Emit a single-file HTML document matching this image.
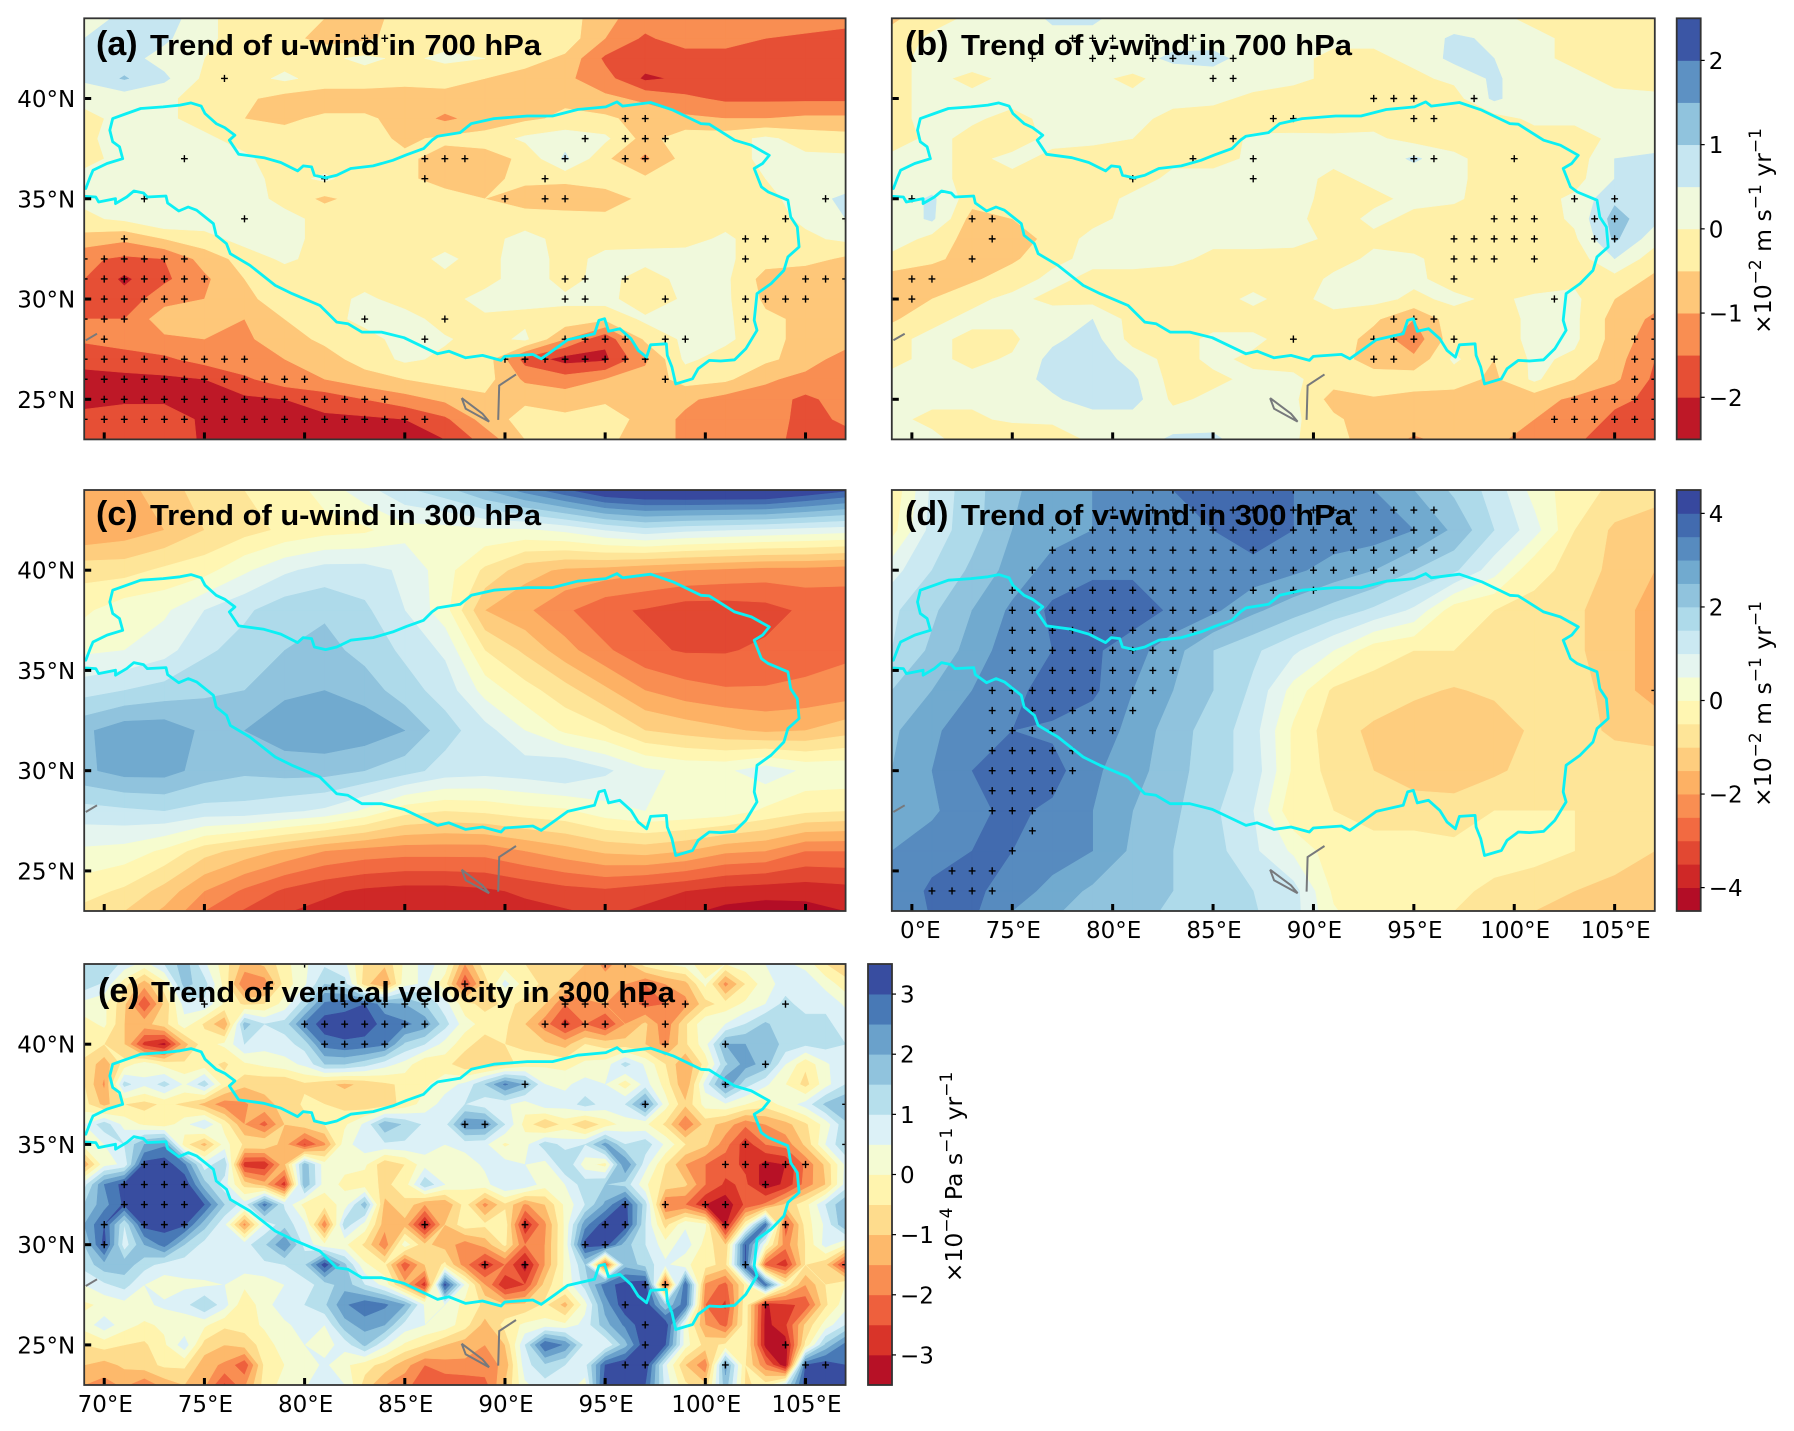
<!DOCTYPE html>
<html lang="en">
<head>
<meta charset="utf-8">
<title>Wind and vertical velocity trends</title>
<style>
html,body{margin:0;padding:0;background:#fff;}
svg{display:block;}
.tick{font-family:"DejaVu Sans",sans-serif;font-size:23px;fill:#000;}
.ttl{font-family:"Liberation Sans",sans-serif;font-weight:bold;font-size:29px;fill:#000;}
.ttlp{font-family:"Liberation Sans",sans-serif;font-weight:bold;font-size:34px;fill:#000;}
.cbl{font-family:"DejaVu Sans",sans-serif;font-size:23.5px;fill:#000;}
.sup{font-size:17px;}
</style>
</head>
<body>
<svg id="fig" xmlns="http://www.w3.org/2000/svg" width="1794" height="1431" viewBox="0 0 1794 1431">
<rect x="0" y="0" width="1794" height="1431" fill="#fff"/>
<g id="plots"></g>
<g>
<text class="ttlp" x="96" y="55">(a)</text>
<text class="ttl" x="150" y="55" textLength="391" lengthAdjust="spacingAndGlyphs">Trend of u-wind in 700 hPa</text>
<text class="ttlp" x="905" y="55">(b)</text>
<text class="ttl" x="961" y="55" textLength="391" lengthAdjust="spacingAndGlyphs">Trend of v-wind in 700 hPa</text>
<text class="ttlp" x="96" y="525">(c)</text>
<text class="ttl" x="150" y="525" textLength="391" lengthAdjust="spacingAndGlyphs">Trend of u-wind in 300 hPa</text>
<text class="ttlp" x="905" y="525">(d)</text>
<text class="ttl" x="961" y="525" textLength="391" lengthAdjust="spacingAndGlyphs">Trend of v-wind in 300 hPa</text>
<text class="ttlp" x="98" y="1002">(e)</text>
<text class="ttl" x="151" y="1002" textLength="524" lengthAdjust="spacingAndGlyphs">Trend of vertical velocity in 300 hPa</text>
</g>
<g>
<text class="cbl" text-anchor="middle" transform="translate(1771,231) rotate(-90)">×10<tspan class="sup" dy="-10">−2</tspan><tspan dy="10"> m s</tspan><tspan class="sup" dy="-10">−1</tspan><tspan dy="10"> yr</tspan><tspan class="sup" dy="-10">−1</tspan></text>
<text class="cbl" text-anchor="middle" transform="translate(1771,704) rotate(-90)">×10<tspan class="sup" dy="-10">−2</tspan><tspan dy="10"> m s</tspan><tspan class="sup" dy="-10">−1</tspan><tspan dy="10"> yr</tspan><tspan class="sup" dy="-10">−1</tspan></text>
<text class="cbl" text-anchor="middle" transform="translate(962,1177) rotate(-90)">×10<tspan class="sup" dy="-10">−4</tspan><tspan dy="10"> Pa s</tspan><tspan class="sup" dy="-10">−1</tspan><tspan dy="10"> yr</tspan><tspan class="sup" dy="-10">−1</tspan></text>
</g>
</svg>
<script>
// ---------- grid coordinates ----------
const lonsFine=[69,70,71,72,73,74,75,76,77,78,79,80,81,82,83,84,85,86,87,88,89,90,91,92,93,94,95,96,97,98,99,100,101,102,103,104,105,106,107];
const lonsCoarse=[69,71,73,75,77,79,81,83,85,87,89,91,93,95,97,99,101,103,105,107];
const latsFine=[44,43,42,41,40,39,38,37,36,35,34,33,32,31,30,29,28,27,26,25,24,23];
const latsCoarse=[44,42,40,38,36,34,32,30,28,26,24,22];
// ---------- contour levels ----------
const levelsAB=[-2.5,-2,-1.5,-1,-.5,0,.5,1,1.5,2,2.5];
const levelsCD=[-4.5,-4,-3.5,-3,-2.5,-2,-1.5,-1,-.5,0,.5,1,1.5,2,2.5,3,3.5,4,4.5];
const levelsE=[-3.5,-3,-2.5,-2,-1.5,-1,-.5,0,.5,1,1.5,2,2.5,3,3.5];
// ---------- axis ticks ----------
const lonTicks=[70,75,80,85,90,95,100,105];
const latTicks=[40,35,30,25];
const lonTickLabels=['70°E','75°E','80°E','85°E','90°E','95°E','100°E','105°E'];
const lonTickLabelsD=['0°E','75°E','80°E','85°E','90°E','95°E','100°E','105°E'];
const latTickLabels=['40°N','35°N','30°N','25°N'];
const cbarTicksAB=[2,1,0,-1,-2];
const cbarTicksCD=[4,2,0,-2,-4];
const cbarTicksE=[3,2,1,0,-1,-2,-3];
// ---------- panel a: u-wind 700 hPa (x10^-2 m/s/yr), rows lat 44..23, cols lon 69..107 step 2 ----------
const valuesA=[
[.1,.7,.8,.1,-.2,-.3,-.5,-.7,-.3,-.3,-.3,-.2,-.2,-.9,-1.2,-1.3,-1,-1.2,-1.2,-1.3],
[.5,.9,.6,.1,-.2,-.3,-.7,-.6,-.3,-.2,-.1,-.3,-.2,-1,-1.6,-1.2,-1.3,-1.5,-1.6,-1.7],
[.6,.7,.3,0,-.1,-.2,-.1,.1,-.1,.1,0,-.3,-.6,-1.6,-1.7,-1.8,-1.7,-1.6,-1.6,-1.8],
[.6,1.05,.6,-.1,-.2,.1,-.2,-.2,-.3,-.3,-.5,-.7,-.9,-1.3,-2.1,-1.9,-1.7,-1.7,-1.7,-1.6],
[.1,.2,.1,-.2,-.4,-.7,-.8,-.8,-.8,-.7,-.9,-.7,-.6,-.9,-1.1,-1.4,-1.6,-1.6,-1.6,-1.6],
[-.1,.1,.1,-.2,-.5,-.6,-.4,-.4,-.7,-1.1,-.8,-.6,-.4,-.4,-.7,-.9,-1,-1,-.9,-.9],
[-.1,.2,.2,.1,-.2,-.3,-.3,-.3,-.6,-.4,-.3,.1,.3,.1,-.7,-.2,-.2,.1,-.2,-.3],
[-.1,.1,.2,.2,.1,-.3,-.3,-.3,-.4,-.7,-.7,-.4,.6,-.4,-1.1,-.3,-.2,.1,.1,.1],
[.1,.2,.1,.1,.2,-.2,.1,-.3,-.4,-.7,-.6,-.4,-.4,-.3,-.4,-.3,-.3,0,.2,.2],
[.1,.2,.2,.15,.3,-.2,-.6,-.3,-.3,-.3,-.5,-.7,-.8,-.7,-.4,-.3,-.3,-.2,.3,.6],
[-.1,.1,.5,.3,.3,.2,-.2,-.2,-.3,-.3,-.3,-.3,-.3,-.4,-.2,-.2,-.2,-.2,.1,.5],
[-.7,-.9,-.5,-.2,.2,.2,-.2,-.2,-.2,-.2,-.2,.2,-.2,-.2,-.2,-.2,.1,-.3,-.1,.1],
[-1.4,-1.6,-1.5,-.8,-.3,.1,-.2,-.2,-.2,.1,-.2,.3,-.2,.15,.2,.25,.1,-.3,-.3,-.6],
[-1.5,-2.1,-1.6,-1.1,-.5,-.3,-.2,-.2,-.2,-.1,-.2,.3,-.2,.2,-.3,.2,.1,-.7,-.9,-.9],
[-1.9,-1.8,-1.2,-1,-.6,-.3,-.2,.1,-.2,-.2,.2,.1,.1,.2,-.4,.1,.1,-.6,-.9,-.9],
[-1.5,-1.5,-.7,-.9,-1,-.5,-.2,.15,.2,-.2,-.1,-.1,-.2,-.4,.1,.2,.1,-.4,-.6,-.7],
[-1.4,-1.2,-1.1,-1,-1.1,-.7,-.4,-.2,.2,.05,-.2,.1,-1,-1.9,-.4,.1,.1,-.3,-.7,-.7],
[-1.9,-1.8,-1.6,-1.3,-1.1,-1,-.7,-.3,.1,-.1,-.2,-1.7,-2.2,-2.1,-1.1,.1,-.2,-.4,-.7,-1.3],
[-2.1,-2.1,-2.1,-2,-1.6,-1.2,-1,-.7,-.5,-.3,-.3,-1.1,-1.3,-1,-.8,-.3,-.4,-.9,-1.2,-1.4],
[-2.1,-2.1,-2.1,-2.1,-2.1,-2,-1.8,-1.5,-1.2,-.9,-.6,-.6,-.7,-.6,-1,-.9,-1.2,-1.3,-1.6,-1.3],
[-1.9,-1.7,-1.7,-2.1,-2.1,-2.1,-2.1,-2.1,-2,-1.6,-.8,-.3,-.4,-.2,-.7,-1.1,-1.3,-1.2,-1.7,-1.4],
[-1.8,-1.7,-1.6,-2.1,-2.1,-2.1,-2.1,-2.2,-2.1,-2,-1.3,-.5,-.2,-.4,-.7,-1.1,-1.1,-1.3,-1.7,-1.7]
];
// ---------- panel b: v-wind 700 hPa ----------
const valuesB=[
[-.6,-.2,.1,.1,.6,.6,.2,.1,.1,.5,.2,.1,.1,.1,.1,.1,-.1,-.2,-.2,-.2],
[-.3,.1,.2,.2,.3,.3,.3,.3,.2,.2,.1,.1,.1,.15,.6,.4,.1,-.1,-.3,-.3],
[-.1,.1,.2,.2,.2,.2,.3,.6,.7,.2,.1,-.1,-.1,.1,.65,.5,.1,-.1,-.3,-.3],
[-.1,.1,-.1,.1,.1,.1,-.1,.2,.2,.2,.1,-.1,-.2,-.1,.1,.6,.1,.1,-.1,-.2],
[-.1,.1,.1,.1,.2,.1,.1,.1,.1,-.1,-.2,-.3,-.2,-.3,-.2,.6,.1,.1,.1,.1],
[-.1,.1,.05,-.1,.1,.1,.1,-.1,-.2,-.3,-.4,-.3,-.2,-.3,-.3,-.2,.1,.1,.1,.1],
[-.2,.1,-.1,-.2,.1,.1,0,-.2,-.3,.1,.15,.1,.1,-.2,-.2,-.2,-.2,-.2,.1,.1],
[.1,.1,-.1,.1,-.1,-.2,-.2,-.1,-.2,.1,.2,.1,.1,.6,.1,-.2,-.2,-.3,.5,.65],
[.1,.1,-.1,-.1,-.2,-.1,-.2,.1,.2,.2,.15,-.1,.1,.1,.1,-.2,-.3,-.2,.5,.65],
[.1,.6,-.3,-.1,-.1,-.2,.1,.2,.2,.1,.1,-.1,-.1,.1,.1,-.3,-.2,.1,.9,.65],
[.1,.6,-.7,-.5,-.1,-.1,.1,.2,.2,.1,.1,-.2,.1,-.1,-.3,-.3,-.3,.1,1.2,.65],
[.35,-.2,-.7,-1,-.2,.1,.1,.1,.1,.1,.15,-.1,-.1,-.3,-.4,-.4,-.3,-.1,1.1,.2],
[-.2,-.4,-.7,-.6,-.1,.1,.1,.1,-.1,-.1,-.2,-.2,.1,.1,-.3,-.3,-.3,-.3,.5,-.3],
[-.7,-.8,-.6,-.2,.1,-.1,-.1,-.2,-.2,-.2,-.3,.1,.1,.1,-.2,-.3,-.3,-.1,-.2,-.6],
[-.8,-.5,-.1,.1,-.1,-.2,-.1,-.2,-.2,.1,-.2,.2,.15,-.1,.1,-.1,.1,.1,-.5,-.8],
[-.6,-.1,.1,.1,.2,.5,-.2,-.2,-.2,-.2,-.2,-.2,-.4,-1,-.2,-.2,.1,.1,-.7,-1.1],
[-.1,.1,-.1,-.1,.4,.7,-.2,-.2,.1,.1,-.2,-.2,-.7,-1.3,-.2,-.2,.1,.1,-.7,-1.3],
[-.1,.1,-.1,.05,.65,.8,.3,-.2,.1,-.1,-.2,-.2,-.8,-.9,.1,-.5,.1,-.1,-.8,-1.5],
[.1,.1,.1,.2,.7,.9,.6,-.2,-.1,.1,.1,-.3,-.2,-.2,-.3,-.6,.1,-.5,-.9,-1.6],
[.1,.1,.1,.1,.4,.8,.7,-.1,.1,.1,.1,-.7,-.55,-.7,-.7,-.9,-.8,-1.1,-1.4,-1.6],
[.1,-.1,-.1,.1,.1,.2,.3,.2,.3,.1,.1,-.4,-.8,-.8,-.7,-.8,-1,-1.2,-1.6,-1.6],
[.3,.1,-.2,-.5,-.3,.1,.2,.6,.6,.2,.05,-.3,-.8,-1.05,-.9,-.9,-1.2,-1.4,-1.8,-1.5]
];
// ---------- panel c: u-wind 300 hPa, rows lat 44..22 step 2 ----------
const valuesC=[
[-2,-1.7,-1.2,-.8,-.5,-.3,.2,.8,1.4,1.8,2.5,3.2,3.9,4.6,4.8,4.9,4.9,4.9,4.5,4.1],
[-2,-1.8,-1.5,-1,-.7,-.4,-.2,-.1,.3,.3,.4,.4,.6,1,1.3,1.1,1,.9,.8,.7],
[-.7,-.7,-.4,-.2,.4,.9,1.2,1.2,.9,.2,-.6,-1.3,-1.6,-1.7,-1.9,-2,-2.1,-2.2,-2.2,-2.3],
[-.1,.3,.4,1,1.4,1.8,1.9,1.6,1,.2,-1.5,-1.9,-2.4,-2.9,-3.05,-3.3,-3.3,-3.2,-2.9,-2.8],
[.4,.5,.8,1.4,1.7,2,2.2,1.8,1.4,.9,-.5,-1.1,-1.8,-2.4,-2.9,-3.05,-3.05,-2.9,-2.7,-2.6],
[1.3,1.5,1.7,1.9,2,2.4,2.5,2.3,1.7,1.3,.3,-.3,-.8,-1.4,-2,-2.3,-2.45,-2.45,-2.4,-2.3],
[2.4,2.8,2.8,2.4,2.5,2.8,2.9,2.8,2.5,1.7,1.2,.5,-.1,-.4,-1,-1.2,-1.4,-1.6,-1.5,-1.2],
[2.4,2.7,2.7,2.3,2.1,2.2,2.2,2,1.7,1.3,1.2,1.3,1.5,1.1,.6,.4,.4,.8,.4,.4],
[1.3,1.4,1.5,1.3,1.3,1.1,.9,.4,-.3,-.5,-.4,-.2,-.1,.3,.5,.4,.3,-.1,-.4,-.5],
[.4,.3,-.1,-.8,-1.2,-1.6,-2,-2.2,-2.3,-2.3,-2.3,-2,-1.7,-1.4,-1.3,-1.5,-1.9,-2,-2.5,-2.5],
[-.3,-.6,-1.2,-2,-2.6,-3.1,-3.4,-3.6,-3.7,-3.7,-3.6,-3.4,-3.2,-3.1,-3.3,-3.5,-3.7,-3.8,-3.8,-3.7],
[-1,-1.4,-2,-3,-3.5,-3.8,-3.9,-3.95,-3.95,-3.95,-3.95,-3.95,-3.9,-3.7,-3.9,-4.3,-4.6,-4.7,-4.6,-4.3]
];
// ---------- panel d: v-wind 300 hPa ----------
const valuesD=[
[-.4,1.1,1.8,2.4,2.8,3,3.4,3.5,3.7,3.8,3.5,3.3,3,2.5,1.9,1.3,.3,-.3,-.6,-.7],
[-.2,1.2,1.8,2.5,2.8,3,3.2,3.4,3.5,3.8,3.5,3.3,3.3,3,2.4,1.5,.7,-.5,-1.1,-1.4],
[.8,1.5,2.1,2.7,3.2,3.4,3.4,3.4,3.4,3.3,3.1,2.8,2.5,2,1.6,.7,-.4,-.6,-1.2,-1.5],
[1.4,1.9,2.5,3.1,3.6,3.8,3.8,3.4,3.1,2.6,2.2,1.8,1.4,.9,-.3,-.5,-.6,-.9,-1.3,-1.7],
[1.5,2.1,2.7,3.3,3.5,3.6,3.2,2.7,2,1.6,1.1,.5,-.3,-.5,-.5,-.7,-.7,-.9,-1.3,-1.7],
[2,2.5,3,3.3,3.8,3.6,3,2.5,2,1.4,.3,-.6,-.7,-.9,-1.05,-.9,-.8,-.7,-1.3,-1.7],
[2.4,2.9,3.3,3.5,3.4,3.2,2.9,2.2,1.8,1.2,-.1,-.8,-1.1,-1.3,-1.5,-1.3,-.9,-.8,-1.1,-1.2],
[2.5,3,3.5,3.9,3.7,3.1,2.7,2.2,1.7,1.3,-.1,-.7,-1,-1.3,-1.4,-1.1,-.8,-.8,-.7,-.7],
[2.5,2.9,3.4,3.6,3.4,3,2.5,2.1,1.6,1,-.4,-.5,-.7,-.7,-.7,-.5,-.5,-.5,-.7,-.8],
[3,3.3,3.5,3.5,3.3,3,2.4,2,1.7,1.1,.4,-.3,-.3,-.3,-.4,-.3,-.3,-.5,-.7,-1],
[3.1,3.6,3.6,3.3,2.8,2.4,2.3,2,1.7,1.5,1.2,-.1,-.3,-.3,-.4,-.6,-.8,-1,-1.2,-1.4],
[3.1,3.5,3.5,2.7,2.4,2.2,2.1,1.8,1.7,1.6,1.2,.2,-.2,-.4,-.6,-1,-1.2,-1.4,-1.5,-1.5]
];
// ---------- panel e: vertical velocity 300 hPa, rows lat 44..23, cols lon 69..107 ----------
const valuesE=[
[1.2,1.5,.8,.3,1,1.8,.6,-.3,-1.2,-.9,-.2,.4,.9,.6,-.6,-.9,.1,.7,.3,-1.5,-.2,-.3,-.5,-.8,-.9,-1,-1.7,-1.2,-.3,0,.2,-.3,0,.3,.5,.6,.3,-.5,-.9],
[1.3,.9,-.3,-1.3,-.2,1.7,1.2,-.2,-2,-1.8,-.3,.4,1.5,1.2,-.8,-1.6,.3,.6,-.3,-2.5,-.8,.7,-.3,-.6,-1,-1.2,-1.2,-1.5,-2,-1.5,-1.2,.1,-1.7,-.5,.3,.7,.9,.3,-.3],
[.3,.1,-.9,-2.5,-.9,.7,.9,-.1,-.6,-.5,.2,1.3,2.6,2.8,3,2.2,2,1.5,.7,-.3,-.7,-.4,-.6,-1,-2,-1.6,-1.5,-1.6,-2.2,-2,-1.7,-.7,-.3,.1,.5,1.2,.7,.9,.4],
[-.2,.1,-1,-1.2,-.7,.3,-.6,-1.5,1.7,1,1.2,2.6,3.3,3.3,3.3,2.8,2.6,2.3,1.2,.2,-.2,-.4,-1,-1.8,-2.7,-2,-2.6,-1.5,-.9,-1.9,-.6,.4,.5,1,1.6,1.1,1.3,1.1,.8],
[-.3,-.5,-1,-2.7,-3.2,-1.2,-.2,.1,1,.7,.8,1.2,2.7,2.9,2.8,2.6,1.4,1,.3,-.3,-.8,-.5,-.6,-.9,-1.2,-.5,-.7,-.8,-1,-1.7,-.6,.3,2,2,1.9,1.3,1.1,1.2,1],
[-.6,-1.3,-.3,.3,-.2,-.4,-.3,-.6,-.1,.1,.3,.6,1.5,1.5,1.2,.7,.3,-.5,-.3,-.9,-1,-.7,-.3,-.1,-.2,.1,.2,1.2,.4,-.5,-1.5,-.3,1.4,2.2,1.8,.5,-.4,.4,.9],
[-.5,-1.6,1.2,.6,1.2,.4,1.3,-.3,-.9,-.9,-1,-.6,-.9,-1.1,-.9,-.6,-.4,-.1,.3,.6,1.5,2.6,1.9,.5,.4,.7,.5,-.3,.7,-.2,-1.5,.7,2.4,1.2,.6,0,-.7,.3,1],
[-.3,-1.2,-.5,-.7,-.4,-.6,-1.2,-1.8,-1.6,-1.1,-.9,-.4,-.5,-.7,-.9,-.8,-.3,.2,.7,1,.7,.6,.2,.8,.7,1.2,.8,1,2.4,.2,-.9,.2,.4,0,-.3,.2,.7,1.6,2],
[.5,1.3,.3,-.1,-.3,.3,1,-.2,-1.5,-2.2,-1,-.7,-.5,-.1,.6,1.9,1.4,.9,.8,2.4,2.4,1,-.2,-1,-.3,-1,-.3,.2,.1,-.6,-2,-.8,-1.2,-1.9,-1.5,-1.2,-.6,.2,1.4],
[.2,.5,1,2,2.4,-.3,-1.2,.2,-.6,-.5,-1.3,-2.6,-1.6,.3,.8,.9,.9,.7,.5,.7,.6,-.1,.3,1.3,.8,1,2.2,1,1.3,.4,-.5,-.9,-1.8,-2.8,-2,-1.8,-.9,.5,1.5],
[-1.4,.3,.6,3.2,3.3,2.6,.7,1.4,-2.8,-2.9,-1.1,1.8,.2,.1,.1,-.9,-.5,.3,.2,.2,.6,.7,.5,.3,1.5,.2,-.2,2.5,.7,-.5,-1.5,-2,-2.3,-2.6,-3.2,-3,-1.9,-.9,.6],
[.8,2.5,3.2,3.4,3.4,3.4,1.7,.7,-.7,-1.3,-2.8,1.9,.2,-.1,-.3,-.6,-.3,1.4,.5,.1,.3,1,.9,.2,.5,1.3,1.5,1.3,.1,-.7,-.9,-2,-2.6,-2.4,-3.3,-2.9,-1.8,-1,.7],
[1.5,2.3,3.1,3.4,3.4,3.3,3,1.5,.7,2.7,.9,-.2,-.3,.2,1.8,-1.2,-.6,-1.5,-1.5,-.3,-1.7,-.6,-1.6,-1,.1,1,2.1,3.2,1.2,-2,-2,-3,-3.4,-2.4,-1.9,-.9,-.2,1,2],
[2,3,1,3.2,3.2,3.1,1.7,.6,-1.7,.6,1.3,.6,-1.9,1.3,.3,-1.3,-1.2,-3.2,-1,-.2,-.4,-.2,-3,-1.6,.1,2.3,3.3,3.3,1,-.7,.4,.1,-3.2,-.2,2.8,-2.4,-.3,.6,2],
[1.5,3.2,.7,2,2.7,1.5,.8,.5,.8,1.4,2.5,.8,.1,.1,-.6,-1.9,.3,-.9,-1.2,-1.8,-1.3,-.4,-2,-1.5,.1,3.2,3.3,1.7,1,.2,.8,-.2,-1,3,.2,-1.8,-.5,.7,0],
[1.2,1.8,1.8,1.2,.8,.7,.8,.5,.8,.9,1,1.4,3.3,1.6,.1,-.4,-2.4,-1,-.4,-1.8,-2.9,-2,-3.3,-1.5,.1,1.5,-2.5,1.8,1.3,.6,.1,-.3,-.7,3,-2.2,-2.8,-.5,-.9,-2.8],
[.5,.9,1.2,.5,.2,.4,.4,.5,.1,.2,.5,.8,1.2,1.8,1,.3,-1.3,-2.8,3.2,.4,-1.5,-3,-2.5,-.8,.1,1.2,2.8,3.2,3.4,-2.5,3,-1.6,-2.2,-.4,2.8,-.2,-1.5,-.5,0],
[-.1,.1,.3,.4,.6,.8,1.5,.7,-.4,.3,.8,1,1.4,2.4,2.9,2.6,2,.4,.5,-.2,-.6,-1,-.9,-.4,-1.2,.3,2.2,3.4,3.4,1.5,2.8,-2,-2.6,-.2,-3.1,-2.6,-2.4,-.6,.3],
[.2,.8,.2,-.1,.1,.1,.1,-.4,-.3,.1,.4,.7,.5,1.8,2.2,2,.8,.5,.3,-.3,-1.2,-.3,.1,.2,.1,.7,1.8,2.6,3.4,3.4,.2,-1.5,-2.2,-.2,-3.2,-2.6,-.9,.2,1],
[-.5,-.3,-.5,-.6,-.1,.8,-.7,-1,-.8,-.3,.3,.5,.3,.7,1.6,.6,-.1,-.5,-1,-1.3,-1.5,-1,1,3,2.4,.8,.5,1.8,3.4,3,.2,-.7,-.4,-.3,-3.2,-3.3,-.4,1.6,2.7],
[-1,-1.2,-.9,-.7,-.4,-.4,-1.3,-1.6,-2.4,-.4,0,.2,.6,.1,-.3,-.7,-1.3,-2,-1.7,-1.6,-1.7,-1.4,.8,1.4,1,.8,3,3.4,3.4,.6,-1,-1.9,2.2,-.5,-1.9,-3.4,3,3.3,3],
[-1.5,-1.7,-1.4,-1.9,-1.3,-1,-1.4,-2.6,-1.6,-.3,.2,.4,1,.5,-.7,-1.5,-1.8,-2.4,-2.4,-2.4,-2.2,-1,.4,.8,.8,.3,3.3,3.4,3,.8,-.4,-.9,1.8,-.6,-.3,.9,3.3,3.3,3.3]
];
// ---------- significance crosses: [lat, [lons]] ----------
const stippleA=[[43,[83,84]],[41,[76]],[39,[96,97]],[38,[94,96,97,98]],[37,[74,86,87,88,93,96,97]],[36,[81,86,92]],[35,[72,90,92,93,106]],[34,[77,104,107]],[33,[71,102,103]],[32,[69,70,71,72,73,74,102]],[31,[69,70,71,72,73,74,75,93,94,96,105,106,107]],[30,[69,70,71,72,73,74,93,94,98,102,103,104,105]],[29,[69,70,71,83,87,102]],[28,[70,86,93,94,95,96,98,99]],[27,[69,70,71,72,73,74,75,76,77,90,91,92,93,94,95,96,97]],[26,[69,70,71,72,73,74,75,76,77,78,79,80,98]],[25,[69,70,71,72,73,74,75,76,77,78,79,80,81,82,83,84]],[24,[69,70,71,72,73,74,75,76,77,78,79,80,81,82,83,84,85,86]]];
const stippleB=[[43,[78,79,80,82,84]],[42,[76,79,80,82,83,84,85,86]],[41,[85,86]],[40,[93,94,95,98]],[39,[88,89,95,96]],[38,[86]],[37,[84,87,95,96,100]],[36,[81,87]],[35,[69,70,100,103,105]],[34,[73,74,99,100,101,104,105]],[33,[74,97,98,99,100,101,104,105]],[32,[73,97,98,99,101]],[31,[70,71,97]],[30,[69,70,102]],[29,[94,95,96,107]],[28,[89,93,94,95,97,106,107]],[27,[93,94,99,106,107]],[26,[106,107]],[25,[103,104,105,106,107]],[24,[102,103,104,105,106,107]]];
const stippleC=[];
const stippleD=[[44,[81,82,83,84,85,86,87,88,89,90,91,92,93]],[43,[80,81,82,83,84,85,86,87,88,89,90,91,92,93,94,95,96]],[42,[77,78,79,80,81,82,83,84,85,86,87,88,89,90,91,92,93,94,95,96]],[41,[77,78,79,80,81,82,83,84,85,86,87,88,89,90,91,92,93,94,95,96]],[40,[76,77,78,79,80,81,82,83,84,85,86,87,88,89,90,91,92,93,94]],[39,[75,76,77,78,79,80,81,82,83,84,85,86,87,88,89,90]],[38,[75,76,77,78,79,80,81,82,83,84,85,86]],[37,[75,76,77,78,79,80,81,82,83,84]],[36,[75,76,77,78,79,80,81,82,83]],[35,[75,76,77,78,79,80,81,82,83]],[34,[74,75,76,77,78,79,80,81,82,107]],[33,[74,75,76,77,78,79,80,81]],[32,[74,75,76,77,78,79,80]],[31,[74,75,76,77,78]],[30,[74,75,76,77,78]],[29,[74,75,76,77]],[28,[74,75,76]],[27,[76]],[26,[75]],[25,[72,73,74]],[24,[71,72,73,74]]];
const stippleE=[[44,[80,95,96]],[43,[88]],[42,[75,82,83,84,85,86,93,94,95,96,97,98,99,104]],[41,[80,81,82,83,84,85,86,92,93,94,95,98]],[40,[81,82,83,84,98,101]],[39,[103]],[38,[91,101]],[37,[97,107]],[36,[88,89]],[35,[102,107]],[34,[72,73,101,102,103,104,105]],[33,[71,72,73,74,103]],[32,[71,72,73,74,96,98,100,101]],[31,[70,72,73,74,86,91,95,96,101,104]],[30,[70,94,95]],[29,[89,91,102,107]],[28,[97,98]],[27,[96,103]],[26,[97]],[25,[97,104]],[24,[96,97,101,105,106]]];
// ---------- Tibetan Plateau boundary [lon, lat] ----------
const plateauBoundary=[[69,35.55],[69.08,35.51],[69.3,36.09],[69.44,36.42],[70.14,36.76],[70.92,37],[70.76,37.59],[70.42,37.84],[70.28,38.42],[70.42,39],[71.12,39.25],[71.82,39.5],[72.94,39.58],[73.78,39.67],[74.33,39.78],[74.84,39.62],[75.03,39.25],[75.59,38.75],[76.01,38.55],[76.52,38.17],[76.24,37.92],[76.71,37.22],[77.97,37.05],[78.81,36.81],[79.65,36.39],[79.93,36.64],[80.35,36.59],[80.49,36.17],[81.05,36.04],[81.6,36.17],[82.3,36.51],[83.42,36.64],[84.4,36.92],[85.1,37.2],[85.94,37.5],[86.36,37.92],[86.64,38.12],[87.76,38.3],[88.32,38.75],[89.44,39],[91.11,39.13],[92.37,39.13],[93.63,39.45],[95.03,39.58],[95.59,39.83],[95.87,39.62],[97.27,39.8],[98.38,39.42],[99.78,38.75],[100.2,38.72],[101.46,37.92],[102.3,37.67],[103.19,37.17],[102.86,36.76],[102.44,36.51],[102.8,35.59],[103.14,35.34],[104.12,34.93],[104.26,34.09],[104.59,33.59],[104.68,32.6],[104.12,32.1],[103.92,31.43],[103.28,30.77],[102.58,30.27],[102.44,28.94],[102.58,28.44],[102.02,27.52],[101.46,26.97],[100.76,26.91],[100.2,26.94],[99.64,26.52],[99.36,26.02],[98.52,25.77],[98.33,26.61],[98.1,27.19],[98.05,27.77],[97.27,27.72],[97.07,27.1],[96.65,27.44],[96.29,28.02],[95.73,28.52],[95.17,28.39],[94.97,29.02],[94.69,28.94],[94.47,28.27],[93.13,27.97],[92.51,27.52],[91.81,27.02],[91.39,27.24],[89.99,27.14],[89.8,26.94],[88.88,27.19],[88.04,27.07],[87.2,27.4],[86.64,27.27],[84.96,28.07],[83.84,28.35],[82.86,28.35],[82.16,28.77],[81.6,28.85],[80.77,29.68],[79.37,30.27],[78.53,30.68],[77.27,31.68],[76.29,32.26],[76.1,32.76],[75.59,33.18],[75.45,33.76],[74.61,34.43],[74.19,34.59],[73.72,34.39],[73.16,34.79],[73.08,35.14],[72.15,35.09],[71.96,35.29],[71.48,35.39],[71.12,35.09],[70.56,34.76],[70.56,35.01],[69.72,34.84],[69.58,35.09],[69.08,35.12],[69,35.12]];
const riverHook=[[90.55,26.24],[89.71,25.69],[89.66,23.97]];
const riverLoop=[[87.84,25.06],[88.04,24.53],[89.21,23.89],[88.88,24.28],[87.84,25.06]];
const riverEdge=[[69.08,27.94],[69.64,28.27]];
// ---------- colormap anchors (RdYlBu) ----------
const cmapStops=[[165,0,38],[215,48,39],[244,109,67],[253,174,97],[254,224,144],[255,255,191],[224,243,248],[171,217,233],[116,173,209],[69,117,180],[49,54,149]];

const SVGNS='http://www.w3.org/2000/svg';
const LON0=69,LON1=107,LAT0=23,LAT1=44;
const plotLayer=document.getElementById('plots');
function svgEl(tag,parent){const e=document.createElementNS(SVGNS,tag);parent.appendChild(e);return e;}
function xOf(ax,lon){return ax.x0+(lon-LON0)/(LON1-LON0)*(ax.x1-ax.x0);}
function yOf(ax,lat){return ax.y0+(LAT1-lat)/(LAT1-LAT0)*(ax.y1-ax.y0);}
function cmap(t){
  const p=Math.min(.99999,Math.max(0,t))*10,i=Math.floor(p),f=p-i;
  const a=cmapStops[i],b=cmapStops[i+1];
  return 'rgb('+Math.round(a[0]+(b[0]-a[0])*f)+','+Math.round(a[1]+(b[1]-a[1])*f)+','+Math.round(a[2]+(b[2]-a[2])*f)+')';
}
function bandColor(levels,k){return cmap((k+.5)/(levels.length-1));}
function cellPath(ax,lons,lats,vals,j,i,lev){
  const cs=[[lons[i],lats[j],vals[j][i]],[lons[i+1],lats[j],vals[j][i+1]],[lons[i+1],lats[j+1],vals[j+1][i+1]],[lons[i],lats[j+1],vals[j+1][i]]];
  const pts=[];
  for(let c=0;c<4;c++){
    const A=cs[c],B=cs[(c+1)%4];
    if(A[2]>=lev)pts.push([A[0],A[1]]);
    if((A[2]>=lev)!==(B[2]>=lev)){
      const t=(lev-A[2])/(B[2]-A[2]);
      pts.push([A[0]+(B[0]-A[0])*t,A[1]+(B[1]-A[1])*t]);
    }
  }
  if(pts.length<3)return '';
  return 'M'+pts.map(p=>xOf(ax,p[0]).toFixed(1)+' '+yOf(ax,p[1]).toFixed(1)).join('L')+'Z';
}
function polyPoints(ax,arr){return arr.map(p=>xOf(ax,p[0]).toFixed(1)+','+yOf(ax,p[1]).toFixed(1)).join(' ');}
function drawRiver(ax,g,arr){
  const l=svgEl('polyline',g);
  
  
  l.setAttribute('points',polyPoints(ax,arr));
  l.setAttribute('fill','none');
  l.setAttribute('stroke','#77797c');
  l.setAttribute('stroke-width','2');
}
function drawPanel(p){
  const ax=p.ax;
  const g=svgEl('g',plotLayer);
  
  
  const clip=svgEl('clipPath',g);
  clip.setAttribute('id','clip-'+p.id);
  const cr=svgEl('rect',clip);
  cr.setAttribute('x',ax.x0);cr.setAttribute('y',ax.y0);
  cr.setAttribute('width',ax.x1-ax.x0);cr.setAttribute('height',ax.y1-ax.y0);
  const inner=svgEl('g',g);
  inner.setAttribute('clip-path','url(#clip-'+p.id+')');
  const base=svgEl('rect',inner);
  
  
  base.setAttribute('x',ax.x0);base.setAttribute('y',ax.y0);
  base.setAttribute('width',ax.x1-ax.x0);base.setAttribute('height',ax.y1-ax.y0);
  base.setAttribute('fill',bandColor(p.levels,0));
  for(let k=1;k<p.levels.length-1;k++){
    let d='';
    for(let j=0;j<p.lats.length-1;j++){
      for(let i=0;i<p.lons.length-1;i++){
        d+=cellPath(ax,p.lons,p.lats,p.values,j,i,p.levels[k]);
      }
    }
    if(!d)continue;
    const path=svgEl('path',inner);
    
    
    path.setAttribute('d',d);
    path.setAttribute('fill',bandColor(p.levels,k));
    path.setAttribute('stroke',bandColor(p.levels,k));
    path.setAttribute('stroke-width','.5');
  }
  drawRiver(ax,inner,riverHook);
  drawRiver(ax,inner,riverLoop);
  drawRiver(ax,inner,riverEdge);
  p.stipple.forEach(function(row){
    row[1].forEach(function(lon){
      const x=xOf(ax,lon),y=yOf(ax,row[0]);
      const s=svgEl('path',inner);
      
      
      s.setAttribute('d','M'+(x-3.4)+' '+y+'H'+(x+3.4)+'M'+x+' '+(y-3.6)+'V'+(y+3.6));
      s.setAttribute('stroke','#000');
      s.setAttribute('stroke-width','1.4');
      s.setAttribute('fill','none');
    });
  });
  const b=svgEl('polyline',inner);
  
  
  b.setAttribute('points',polyPoints(ax,plateauBoundary));
  b.setAttribute('fill','none');
  b.setAttribute('stroke','#0cf0f4');
  b.setAttribute('stroke-width','2.8');
  b.setAttribute('stroke-linejoin','round');
  lonTicks.forEach(function(lon,i){
    const x=xOf(ax,lon);
    const t=svgEl('line',g);
    
    
    t.setAttribute('x1',x);t.setAttribute('x2',x);
    t.setAttribute('y1',ax.y1);t.setAttribute('y2',ax.y1-7);
    t.setAttribute('stroke','#000');t.setAttribute('stroke-width','3');
    if(p.xLabels){
      const lab=svgEl('text',g);
      
      
      lab.setAttribute('class','tick');
      lab.setAttribute('text-anchor','middle');
      lab.setAttribute('x',p.xLabels[i]==='0°E'?x+8.5:x+1);
      lab.setAttribute('y',ax.y1+27);
      lab.textContent=p.xLabels[i];
    }
  });
  latTicks.forEach(function(lat,i){
    const y=yOf(ax,lat);
    const t=svgEl('line',g);
    
    
    t.setAttribute('x1',ax.x0);t.setAttribute('x2',ax.x0+7);
    t.setAttribute('y1',y);t.setAttribute('y2',y);
    t.setAttribute('stroke','#000');t.setAttribute('stroke-width','3');
    if(p.yLabels){
      const lab=svgEl('text',g);
      
      
      lab.setAttribute('class','tick');
      lab.setAttribute('text-anchor','end');
      lab.setAttribute('x',ax.x0-9);
      lab.setAttribute('y',y+8.5);
      lab.textContent=p.yLabels[i];
    }
  });
  const f=svgEl('rect',g);
  
  
  f.setAttribute('x',ax.x0);f.setAttribute('y',ax.y0);
  f.setAttribute('width',ax.x1-ax.x0);f.setAttribute('height',ax.y1-ax.y0);
  f.setAttribute('fill','none');f.setAttribute('stroke','#333');f.setAttribute('stroke-width','1.8');
}
function drawColorbar(c){
  const g=svgEl('g',plotLayer);
  
  
  const lo=c.levels[0],hi=c.levels[c.levels.length-1];
  const yv=function(v){return c.y1-(v-lo)/(hi-lo)*(c.y1-c.y0);};
  for(let k=0;k<c.levels.length-1;k++){
    const r=svgEl('rect',g);
    
    
    r.setAttribute('x',c.x0);
    r.setAttribute('width',c.x1-c.x0);
    r.setAttribute('y',yv(c.levels[k+1]));
    r.setAttribute('height',yv(c.levels[k])-yv(c.levels[k+1])+.4);
    r.setAttribute('fill',bandColor(c.levels,k));
  }
  const f=svgEl('rect',g);
  
  
  f.setAttribute('x',c.x0);f.setAttribute('y',c.y0);
  f.setAttribute('width',c.x1-c.x0);f.setAttribute('height',c.y1-c.y0);
  f.setAttribute('fill','none');f.setAttribute('stroke','#333');f.setAttribute('stroke-width','1.8');
  c.ticks.forEach(function(v){
    const y=yv(v);
    const t=svgEl('line',g);
    
    
    t.setAttribute('x1',c.x1);t.setAttribute('x2',c.x1+4);
    t.setAttribute('y1',y);t.setAttribute('y2',y);
    t.setAttribute('stroke','#000');t.setAttribute('stroke-width','1.2');
    const lab=svgEl('text',g);
    
    
    lab.setAttribute('class','tick');
    lab.setAttribute('x',c.x1+8);
    lab.setAttribute('y',y+8.5);
    lab.textContent=(v<0?'\u2212':'')+Math.abs(v);
  });
}
const axA={x0:84.2,x1:845.6,y0:18.3,y1:439.4};
const axB={x0:891.8,x1:1654.8,y0:18.3,y1:439.4};
const axC={x0:84.2,x1:845.6,y0:490,y1:911};
const axD={x0:891.8,x1:1654.8,y0:490,y1:911};
const axE={x0:84.2,x1:845.6,y0:964,y1:1385};
drawPanel({id:'a',name:'panel-a-u-wind-700',ax:axA,lons:lonsCoarse,lats:latsFine,values:valuesA,levels:levelsAB,stipple:stippleA,yLabels:latTickLabels});
drawPanel({id:'b',name:'panel-b-v-wind-700',ax:axB,lons:lonsCoarse,lats:latsFine,values:valuesB,levels:levelsAB,stipple:stippleB});
drawPanel({id:'c',name:'panel-c-u-wind-300',ax:axC,lons:lonsCoarse,lats:latsCoarse,values:valuesC,levels:levelsCD,stipple:stippleC,yLabels:latTickLabels});
drawPanel({id:'d',name:'panel-d-v-wind-300',ax:axD,lons:lonsCoarse,lats:latsCoarse,values:valuesD,levels:levelsCD,stipple:stippleD,xLabels:lonTickLabelsD});
drawPanel({id:'e',name:'panel-e-vertical-velocity-300',ax:axE,lons:lonsFine,lats:latsFine,values:valuesE,levels:levelsE,stipple:stippleE,xLabels:lonTickLabels,yLabels:latTickLabels});
drawColorbar({name:'colorbar-ab',x0:1676.7,x1:1700.7,y0:18.3,y1:439.4,levels:levelsAB,ticks:cbarTicksAB});
drawColorbar({name:'colorbar-cd',x0:1676.7,x1:1700.7,y0:490,y1:911,levels:levelsCD,ticks:cbarTicksCD});
drawColorbar({name:'colorbar-e',x0:868,x1:892,y0:964,y1:1385,levels:levelsE,ticks:cbarTicksE});
</script>
</body>
</html>
